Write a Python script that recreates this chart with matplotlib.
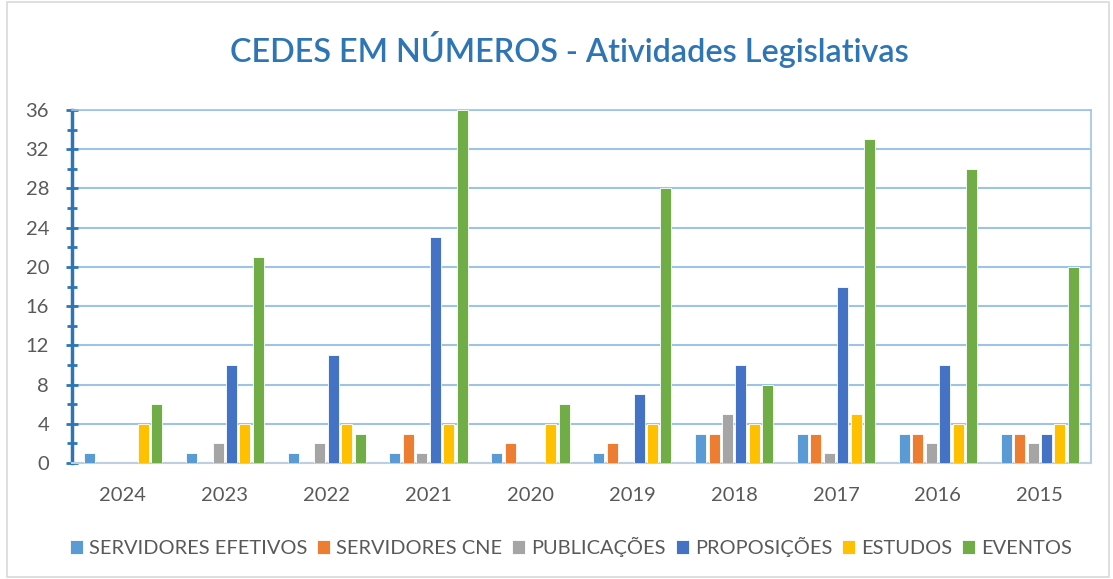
import matplotlib
matplotlib.use("Agg")
import matplotlib.pyplot as plt
import numpy as np
from matplotlib.patches import Rectangle

years = ["2024", "2023", "2022", "2021", "2020", "2019", "2018", "2017", "2016", "2015"]
servidores_efetivos = [1, 1, 1, 1, 1, 1, 3, 3, 3, 3]
servidores_cne = [0, 0, 0, 3, 2, 2, 3, 3, 3, 3]
publicacoes = [0, 2, 2, 1, 0, 0, 5, 1, 2, 2]
proposicoes = [0, 10, 11, 23, 0, 7, 10, 18, 10, 3]
estudos = [4, 4, 4, 4, 4, 4, 4, 5, 4, 4]
eventos = [6, 21, 3, 36, 6, 28, 8, 33, 30, 20]

series_names = ["SERVIDORES EFETIVOS", "SERVIDORES CNE", "PUBLICAÇÕES", "PROPOSIÇÕES", "ESTUDOS", "EVENTOS"]
series = [servidores_efetivos, servidores_cne, publicacoes, proposicoes, estudos, eventos]
colors = ["#5B9BD5", "#ED7D31", "#A5A5A5", "#4472C4", "#FFC000", "#70AD47"]

plt.rcParams['font.family'] = ['Lato', 'DejaVu Sans']

fig = plt.figure(figsize=(11.13, 5.79), dpi=100)
fig.patches.append(Rectangle((0.006, 0.004), 0.99, 0.992, transform=fig.transFigure,
                             fill=False, edgecolor="#D9D9D9", linewidth=1.2))
ax = fig.add_axes([0.0647, 0.2003, 0.9153, 0.6097])

x = np.arange(len(years))
step = 0.132
width = 0.108
for i, (name, vals, c) in enumerate(zip(series_names, series, colors)):
    ax.bar(x + (i - 2.5) * step, vals, width=width, color=c, label=name,
           edgecolor="white", linewidth=0.6, zorder=3)

ax.set_xlim(-0.5, len(years) - 0.5)
ax.set_ylim(0, 36)
ax.set_yticks(np.arange(0, 37, 4))
ax.set_yticks(np.arange(0, 37, 2), minor=True)
ax.set_xticks(x)
ax.set_xticklabels(years)
ax.yaxis.grid(True, which="major", color="#9DC3E6", linewidth=1.5, zorder=0)
ax.set_axisbelow(True)

for s in ["top", "right"]:
    ax.spines[s].set_color("#9DC3E6")
    ax.spines[s].set_linewidth(1.2)
ax.spines["left"].set_color("#2E75B6")
ax.spines["left"].set_linewidth(2.5)
ax.spines["bottom"].set_color("#BFCFDF")
ax.spines["bottom"].set_linewidth(1.5)
ax.tick_params(axis="y", which="major", direction="inout", length=9, width=2,
               color="#2E75B6", labelsize=14.5, labelcolor="#595959", pad=12)
ax.tick_params(axis="y", which="minor", direction="inout", length=7, width=2,
               color="#2E75B6")
ax.tick_params(axis="x", length=0, labelsize=14.5, labelcolor="#595959", pad=17)

fig.text(0.512, 0.915, "CEDES EM NÚMEROS - Atividades Legislativas", ha="center", va="center",
         fontsize=23.3, fontweight="semibold", color="#2E75B6")

leg = fig.legend(loc="center", bbox_to_anchor=(0.513, 0.055), ncol=6, frameon=False,
                 fontsize=14.4, handlelength=0.65, handleheight=0.65, handletextpad=0.3,
                 columnspacing=0.5)
for t in leg.get_texts():
    t.set_color("#595959")

fig.savefig("out.png", dpi=100)
